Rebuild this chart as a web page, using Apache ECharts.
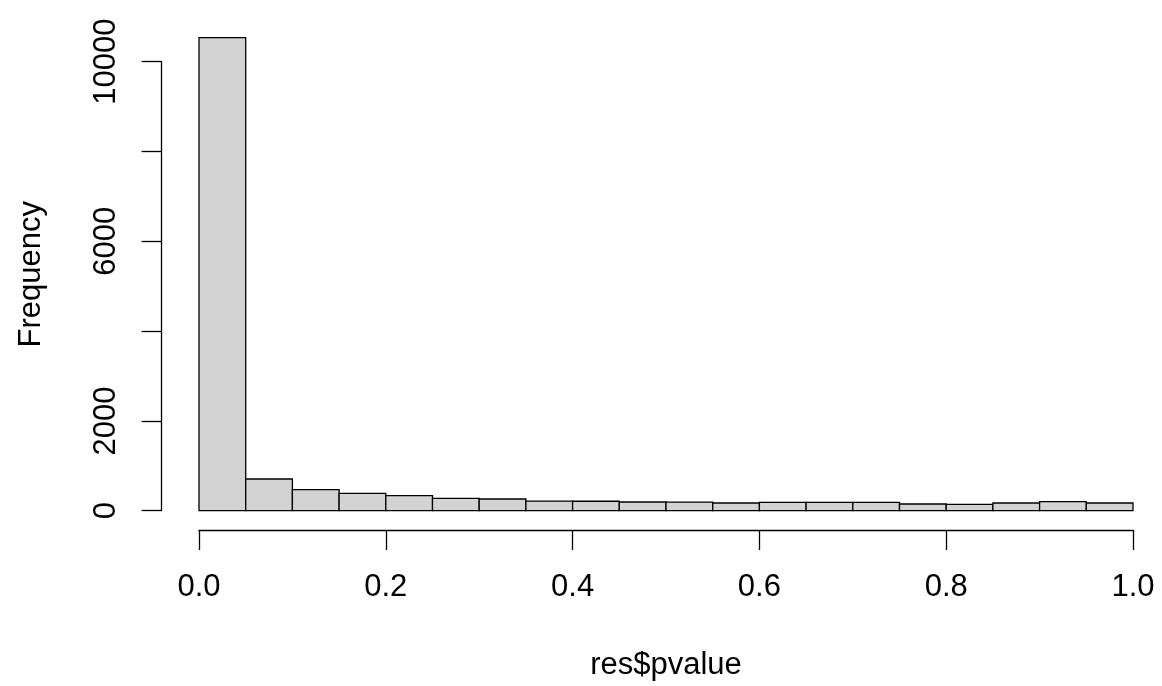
<!DOCTYPE html>
<html>
<head>
<meta charset="utf-8">
<script src="https://cdn.jsdelivr.net/npm/echarts@6/dist/echarts.min.js"></script>
<style>
html,body{margin:0;padding:0;background:#fff;}
#chart{width:1162px;height:686px;}
</style>
</head>
<body>
<div id="chart"></div>
<script>
// Histogram of res$pvalue: bin edges and counts
var binStarts = [0.00,0.05,0.10,0.15,0.20,0.25,0.30,0.35,0.40,0.45,0.50,0.55,0.60,0.65,0.70,0.75,0.80,0.85,0.90,0.95];
var binWidth = 0.05;
var counts = [10535,706,468,388,334,276,261,212,210,194,190,171,186,186,186,149,142,171,200,171];
var yShownLabels = ['0','2000','6000','10000'];
var xTickLabels = ['0.0','0.2','0.4','0.6','0.8','1.0'];

var histData = binStarts.map(function(s, i){ return [s, s + binWidth, counts[i]]; });

var chart = echarts.init(document.getElementById('chart'), null, {renderer:'canvas'});
var font = 'Liberation Sans, Arial, Helvetica, sans-serif';
chart.setOption({
  backgroundColor:'#ffffff',
  animation:false,
  grid:{left:199, right:29, top:61.7, bottom:175.3, containLabel:false},
  xAxis:{
    type:'value', min:0, max:1, interval:0.2, offset:19.3,
    name:'res$pvalue', nameLocation:'middle', nameGap:120,
    nameTextStyle:{fontFamily:font, fontSize:31, color:'#000'},
    axisLine:{show:true, onZero:false, lineStyle:{color:'#000', width:1.3}},
    axisTick:{show:true, length:20, lineStyle:{color:'#000', width:1.3}},
    axisLabel:{fontFamily:font, fontSize:31, color:'#000', margin:42,
      formatter:function(v){ var i = Math.round(v/0.2); return xTickLabels[i] || ''; }},
    splitLine:{show:false}
  },
  yAxis:{
    type:'value', min:0, max:10000, interval:2000, offset:37.4,
    name:'Frequency', nameLocation:'middle', nameGap:115, nameRotate:90,
    nameTextStyle:{fontFamily:font, fontSize:31, color:'#000', padding:[0,0,0,24]},
    axisLine:{show:true, onZero:false, lineStyle:{color:'#000', width:1.3}},
    axisTick:{show:true, length:20, lineStyle:{color:'#000', width:1.3}},
    axisLabel:{fontFamily:font, fontSize:31, color:'#000', margin:40, rotate:90,
      formatter:function(v){ var s = String(v); return yShownLabels.indexOf(s) >= 0 ? s : ''; }},
    splitLine:{show:false}
  },
  series:[{
    type:'custom',
    clip:false,
    data:histData,
    encode:{x:[0,1], y:2},
    renderItem:function(params, api){
      var p0 = api.coord([api.value(0), 0]);
      var p1 = api.coord([api.value(1), api.value(2)]);
      return {
        type:'rect',
        shape:{x:p0[0], y:p1[1], width:p1[0]-p0[0], height:p0[1]-p1[1]},
        style:{fill:'#d3d3d3', stroke:'#000', lineWidth:1.3}
      };
    }
  }]
});
</script>
</body>
</html>
